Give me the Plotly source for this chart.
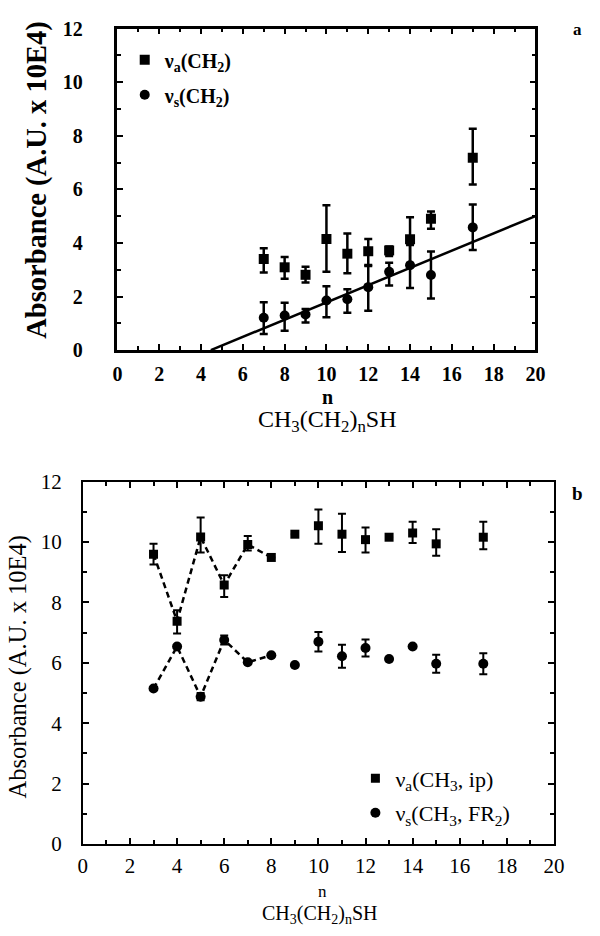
import plotly.graph_objects as go

# ---------------- data: panel a ----------------
n_a = [7, 8, 9, 10, 11, 12, 13, 14, 15, 17]
va_ch2 = [3.4, 3.09, 2.81, 4.15, 3.6, 3.69, 3.72, 4.14, 4.9, 7.18]
va_ch2_plus = [0.4, 0.38, 0.3, 1.26, 0.75, 0.46, 0.15, 0.82, 0.27, 1.08]
va_ch2_minus = [0.5, 0.43, 0.29, 1.23, 0.73, 0.51, 0.21, 0.89, 0.37, 1.0]
vs_ch2 = [1.21, 1.29, 1.33, 1.85, 1.9, 2.35, 2.92, 3.17, 2.8, 4.58]
vs_ch2_plus = [0.58, 0.48, 0.2, 0.53, 0.37, 0.79, 0.34, 0.75, 0.88, 0.85]
vs_ch2_minus = [0.61, 0.57, 0.3, 0.62, 0.51, 0.88, 0.51, 0.85, 0.87, 0.84]
fit_x = [4.47, 20]
fit_y = [0.0, 5.0]

# ---------------- data: panel b ----------------
n_b = [3, 4, 5, 6, 7, 8, 9, 10, 11, 12, 13, 14, 15, 17]
va_ch3 = [9.6, 7.38, 10.17, 8.58, 9.92, 9.49, 10.26, 10.54, 10.26, 10.08, 10.16, 10.3, 9.94, 10.16]
va_ch3_plus = [0.34, 0.36, 0.64, 0.32, 0.28, 0, 0, 0.54, 0.68, 0.4, 0, 0.37, 0.48, 0.51]
va_ch3_minus = [0.34, 0.41, 0.52, 0.4, 0.2, 0, 0, 0.6, 0.59, 0.43, 0, 0.33, 0.39, 0.4]
vs_ch3 = [5.15, 6.54, 4.88, 6.76, 6.02, 6.25, 5.93, 6.7, 6.22, 6.49, 6.13, 6.54, 5.97, 5.97]
vs_ch3_err = [0, 0, 0.12, 0.15, 0, 0, 0, 0.32, 0.38, 0.28, 0, 0, 0.3, 0.35]
n_linked = 6  # first six points joined by dashed lines

x_ticks = [0, 2, 4, 6, 8, 10, 12, 14, 16, 18, 20]
y_ticks = [0, 2, 4, 6, 8, 10, 12]

SERIF = "Liberation Serif"
W, H = 600, 936

fig = go.Figure()

# ----- panel a traces -----
fig.add_trace(go.Scatter(
    x=n_a, y=va_ch2, mode="markers", name="ν<sub>a</sub>(CH<sub>2</sub>)",
    marker=dict(symbol="square", size=10, color="black"),
    error_y=dict(type="data", array=va_ch2_plus, arrayminus=va_ch2_minus,
                 color="black", thickness=2.5, width=4),
    xaxis="x", yaxis="y", legend="legend", legendgroup="a1"))
fig.add_trace(go.Scatter(
    x=n_a, y=vs_ch2, mode="markers", name="ν<sub>s</sub>(CH<sub>2</sub>)",
    marker=dict(symbol="circle", size=10, color="black"),
    error_y=dict(type="data", array=vs_ch2_plus, arrayminus=vs_ch2_minus,
                 color="black", thickness=2.5, width=4),
    xaxis="x", yaxis="y", legend="legend", legendgroup="a2"))
fig.add_trace(go.Scatter(
    x=fit_x, y=fit_y, mode="lines", line=dict(color="black", width=2.5),
    showlegend=False, xaxis="x", yaxis="y"))

# ----- panel b traces -----
fig.add_trace(go.Scatter(
    x=n_b[:n_linked], y=va_ch3[:n_linked], mode="lines",
    line=dict(color="black", width=2.5, dash="6px,4px"),
    showlegend=False, xaxis="x2", yaxis="y2"))
fig.add_trace(go.Scatter(
    x=n_b[:n_linked], y=vs_ch3[:n_linked], mode="lines",
    line=dict(color="black", width=2.5, dash="6px,4px"),
    showlegend=False, xaxis="x2", yaxis="y2"))
fig.add_trace(go.Scatter(
    x=n_b, y=va_ch3, mode="markers", name="ν<sub>a</sub>(CH<sub>3</sub>, ip)",
    marker=dict(symbol="square", size=9, color="black"),
    error_y=dict(type="data", array=va_ch3_plus, arrayminus=va_ch3_minus,
                 color="black", thickness=2, width=4),
    xaxis="x2", yaxis="y2", legend="legend2", legendgroup="b1"))
fig.add_trace(go.Scatter(
    x=n_b, y=vs_ch3, mode="markers", name="ν<sub>s</sub>(CH<sub>3</sub>, FR<sub>2</sub>)",
    marker=dict(symbol="circle", size=10, color="black"),
    error_y=dict(type="data", array=vs_ch3_err,
                 color="black", thickness=2, width=4),
    xaxis="x2", yaxis="y2", legend="legend2", legendgroup="b2"))


def axis(rng, ticks, dom, anchor, bold, lw, standoff, size):
    return dict(
        range=rng, domain=dom, anchor=anchor,
        tickmode="array", tickvals=ticks, ticktext=[str(t) for t in ticks],
        showline=True, linecolor="black", linewidth=lw, mirror="ticks",
        ticks="inside", ticklen=6, tickwidth=2, tickcolor="black",
        minor=dict(ticks="inside", ticklen=4, tickwidth=1.5, dtick=1, tick0=0,
                   tickcolor="black", showgrid=False),
        showgrid=False, zeroline=False,
        ticklabelstandoff=standoff,
        tickfont=dict(family=SERIF, size=size, color="black",
                      weight="bold" if bold else "normal"),
    )


def px_x(p):
    return p / W


def px_y(p):
    return 1 - p / H


fig.update_layout(
    width=W, height=H,
    margin=dict(l=0, r=0, t=0, b=0),
    paper_bgcolor="white", plot_bgcolor="white",
    font=dict(family=SERIF, color="black"),
    xaxis=axis([0, 20], x_ticks, [px_x(115.5), px_x(545)], "y", True, 2.5, 4, 20),
    yaxis=axis([0, 12], y_ticks, [px_y(347), px_y(17)], "x", True, 2.5, 28, 20),
    xaxis2=axis([0, 20], x_ticks, [px_x(80), px_x(564)], "y2", False, 2, 2, 21),
    yaxis2=axis([0, 12], y_ticks, [px_y(854), px_y(482)], "x2", False, 2, 15, 21),
    legend=dict(x=px_x(123), y=px_y(29), xanchor="left", yanchor="top",
                bgcolor="rgba(0,0,0,0)", tracegroupgap=6, itemwidth=30,
                font=dict(family=SERIF, size=20, color="black", weight="bold")),
    legend2=dict(x=px_x(360), y=px_y(765), xanchor="left", yanchor="top",
                 bgcolor="rgba(0,0,0,0)", tracegroupgap=3, itemwidth=30,
                 font=dict(family=SERIF, size=22, color="black")),
)

ann = [
    dict(text="n", x=px_x(331), y=px_y(395), font=dict(size=20, weight="bold")),
    dict(text="CH<sub>3</sub>(CH<sub>2</sub>)<sub>n</sub>SH", x=px_x(331), y=px_y(420),
         font=dict(size=24)),
    dict(text="Absorbance (A.U. x 10E4)", x=px_x(32), y=px_y(173), textangle=-90,
         font=dict(size=28.5, weight="bold")),
    dict(text="a", x=px_x(588), y=px_y(18), font=dict(size=17, weight="bold")),
    dict(text="n", x=px_x(326), y=px_y(903), font=dict(size=17)),
    dict(text="CH<sub>3</sub>(CH<sub>2</sub>)<sub>n</sub>SH", x=px_x(324), y=px_y(926),
         font=dict(size=20)),
    dict(text="Absorbance (A.U. x 10E4)", x=px_x(13), y=px_y(672), textangle=-90,
         font=dict(size=24.5)),
    dict(text="b", x=px_x(588), y=px_y(494), font=dict(size=19, weight="bold")),
]
for a in ann:
    a.update(xref="paper", yref="paper", showarrow=False,
             xanchor="center", yanchor="middle")
    a["font"] = dict(family=SERIF, color="black", **a["font"])
fig.update_layout(annotations=ann)

fig.write_html("out.html")
